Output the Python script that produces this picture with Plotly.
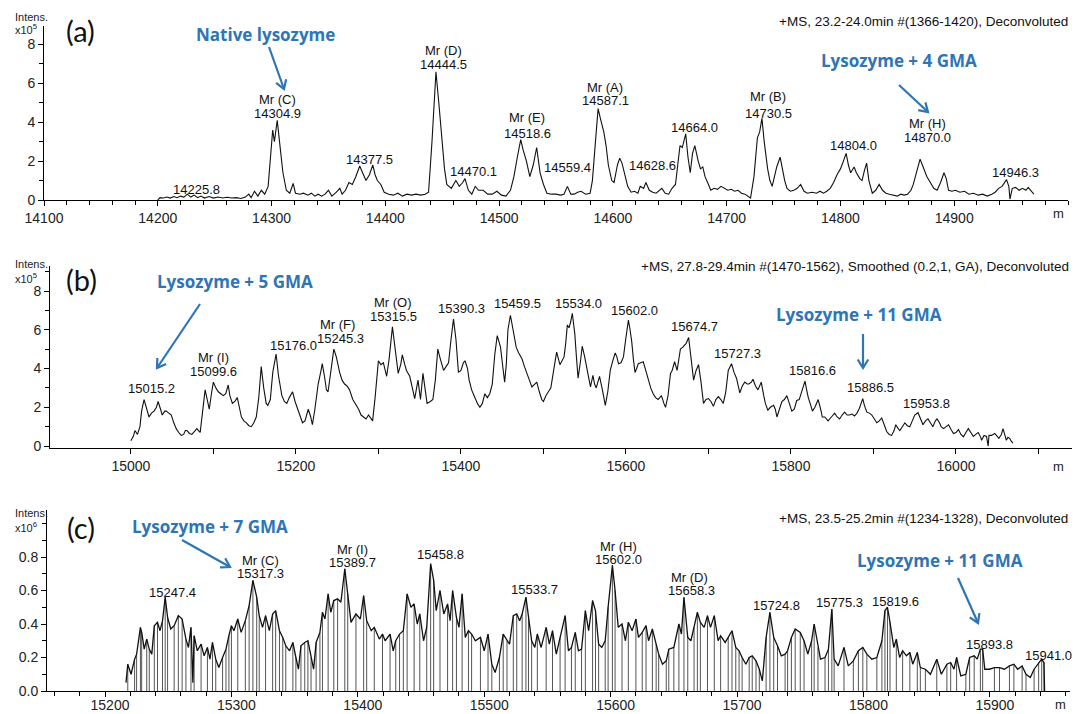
import math
import plotly.graph_objects as go

W, H = 1074, 714
ARIAL = "Liberation Sans, Arial, sans-serif"
CAL = "Lato, Carlito, Calibri, sans-serif"
BLUE_FONT = "Open Sans, Lato, sans-serif"
BLUE = "#2E75B6"
INK = "#111111"

# ---------------- data: panel (a) ----------------
a_mz = [
    14200, 14202, 14205, 14208, 14211, 14214, 14217, 14220, 14223, 14226,
    14229, 14232, 14235, 14238, 14241, 14245, 14249, 14253, 14257, 14261,
    14265, 14269, 14273, 14277, 14280, 14282, 14285, 14288, 14291, 14294,
    14297, 14299, 14301, 14302.5, 14305, 14307, 14310, 14313, 14316, 14319,
    14321, 14325, 14328, 14332, 14335, 14338, 14341, 14344, 14347, 14350,
    14353, 14357, 14360, 14362, 14365, 14368, 14371, 14374, 14377.5, 14380,
    14383, 14386, 14389, 14391, 14393, 14396, 14399, 14403, 14407, 14411,
    14415, 14419, 14423, 14427, 14431, 14435, 14438, 14441, 14444.5, 14447,
    14450, 14452, 14454, 14458, 14462, 14465, 14468, 14470, 14473, 14476,
    14479, 14482, 14486, 14490, 14494, 14498, 14502, 14506, 14510, 14513,
    14516, 14519, 14521, 14524, 14527, 14530, 14533, 14536, 14539, 14542,
    14546, 14550, 14554, 14557, 14560, 14563, 14566, 14569, 14572, 14576,
    14580, 14582, 14584, 14587, 14589, 14592, 14594, 14596, 14599, 14601,
    14604, 14606, 14608, 14611, 14613, 14616, 14619, 14622, 14624, 14627,
    14629, 14632, 14635, 14638, 14641, 14643, 14646, 14649, 14652, 14655,
    14657, 14659, 14661, 14664, 14666, 14668, 14670, 14672, 14675, 14677,
    14679, 14681, 14684, 14686, 14689, 14692, 14695, 14698, 14701, 14704,
    14707, 14710, 14713, 14716, 14719, 14721, 14724, 14727, 14729, 14731,
    14733, 14736, 14738, 14740, 14742, 14744, 14747, 14749, 14751, 14753,
    14756, 14759, 14762, 14765, 14768, 14771, 14775, 14779, 14782, 14785,
    14788, 14791, 14794, 14797, 14800, 14802, 14805, 14807, 14809, 14812,
    14814, 14817, 14819, 14821, 14823, 14825, 14828, 14831, 14834, 14837,
    14840, 14843, 14846, 14850, 14853, 14856, 14859, 14862, 14864, 14867,
    14870, 14872, 14874, 14876, 14879, 14882, 14885, 14888, 14891, 14893,
    14895, 14898, 14901, 14905, 14909, 14913, 14917, 14921, 14925, 14929,
    14933, 14936, 14939, 14942, 14946, 14948, 14949, 14951, 14954, 14957,
    14960, 14963, 14965, 14968, 14970,
]
a_int = [
    0.0, 0.12, 0.1, 0.15, 0.1, 0.18, 0.12, 0.2, 0.15, 0.3,
    0.15, 0.25, 0.12, 0.2, 0.1, 0.18, 0.1, 0.15, 0.1, 0.14,
    0.1, 0.12, 0.08, 0.15, 0.3, 0.12, 0.45, 0.2, 0.5, 0.3,
    0.7, 2.0, 3.6, 3.0, 4.1, 3.0, 1.4, 0.5, 0.35, 0.85,
    0.35, 0.3, 0.35, 0.25, 0.35, 0.2, 0.3, 0.2, 0.3, 0.5,
    0.2, 0.4, 0.6, 0.3, 0.5, 0.9, 0.8, 1.2, 1.75, 1.4,
    1.0, 1.3, 1.8, 1.3, 1.0, 0.8, 0.4, 0.3, 0.25, 0.35,
    0.2, 0.3, 0.25, 0.3, 0.25, 0.3, 0.4, 3.0, 6.6, 5.0,
    3.0, 1.6, 0.8, 0.6, 1.0, 0.7, 0.9, 1.1, 0.5, 0.3,
    0.7, 0.5, 0.5, 0.3, 0.3, 0.45, 0.25, 0.2, 0.5, 1.2,
    2.2, 3.1, 2.6, 2.0, 1.2, 1.8, 2.7, 1.4, 0.8, 0.35,
    0.3, 0.3, 0.25, 0.3, 0.7, 0.3, 0.3, 0.4, 0.45, 0.3,
    0.35, 1.0, 2.5, 4.7, 4.2, 3.5, 2.8, 1.8, 1.0, 0.9,
    1.8, 2.15, 1.9, 1.2, 0.7, 0.4, 0.45, 0.35, 0.7, 0.6,
    0.9, 0.5, 0.4, 0.35, 0.5, 0.6, 0.35, 0.3, 0.6, 0.8,
    1.8, 2.8, 2.7, 3.4, 2.2, 1.4, 2.4, 2.8, 2.0, 1.6,
    1.7, 1.2, 0.8, 0.5, 0.6, 0.55, 0.7, 0.6, 0.5, 0.55,
    0.45, 0.5, 0.35, 0.3, 0.15, 0.1, 1.2, 3.2, 3.5, 4.2,
    3.0, 1.6, 1.0, 0.7, 1.2, 1.7, 2.2, 1.5, 1.0, 0.6,
    0.45, 0.5, 0.6, 0.8, 0.45, 0.35, 0.4, 0.35, 0.45, 0.35,
    0.45, 0.6, 0.9, 1.3, 1.6, 1.9, 2.4, 1.8, 1.4, 1.7,
    1.4, 1.1, 1.0, 1.5, 1.9, 1.0, 0.35, 0.5, 0.8, 0.5,
    0.35, 0.3, 0.25, 0.2, 0.3, 0.25, 0.3, 0.5, 0.8, 1.4,
    2.1, 1.8, 1.5, 1.2, 0.9, 0.6, 0.5, 0.9, 1.4, 1.1,
    0.5, 0.45, 0.5, 0.4, 0.45, 0.3, 0.35, 0.25, 0.3, 0.2,
    0.3, 0.4, 0.6, 0.7, 1.05, 0.7, 0.05, 0.6, 0.65, 0.5,
    0.6, 0.5, 0.65, 0.45, 0.3,
]

# ---------------- data: panel (b) ----------------
b_mz = [
    15000, 15003, 15005, 15008, 15011, 15013, 15016, 15019, 15022, 15025,
    15028, 15031, 15033, 15036, 15038, 15041, 15043, 15046, 15049, 15052,
    15055, 15058, 15061, 15064, 15066, 15068, 15071, 15074, 15077, 15080,
    15082, 15084, 15087, 15090, 15093, 15095, 15098, 15100, 15103, 15106,
    15109, 15112, 15115, 15118, 15120, 15123, 15126, 15129, 15132, 15134,
    15137, 15140, 15143, 15146, 15149, 15152, 15155, 15158, 15161, 15164,
    15166, 15169, 15172, 15176, 15179, 15183, 15186, 15189, 15192, 15196,
    15199, 15203, 15206, 15208, 15211, 15215, 15218, 15220, 15223, 15227,
    15230, 15232, 15235, 15237, 15239, 15242, 15246, 15249, 15253, 15256,
    15259, 15262, 15265, 15269, 15272, 15276, 15279, 15282, 15285, 15288,
    15291, 15293, 15296, 15300, 15303, 15306, 15310, 15313, 15317, 15320,
    15324, 15327, 15329, 15332, 15334, 15338, 15341, 15344, 15348, 15351,
    15354, 15357, 15359, 15363, 15366, 15369, 15372, 15375, 15379, 15382,
    15385, 15388, 15391, 15394, 15397, 15400, 15403, 15405, 15408, 15410,
    15413, 15416, 15420, 15423, 15426, 15429, 15432, 15435, 15438, 15441,
    15444, 15446, 15448, 15451, 15453, 15455, 15457, 15460, 15463, 15465,
    15467, 15470, 15474, 15477, 15480, 15483, 15486, 15489, 15492, 15495,
    15498, 15500, 15503, 15506, 15509, 15512, 15516, 15520, 15523, 15525,
    15527, 15529, 15531, 15533, 15535, 15538, 15540, 15542, 15545, 15547,
    15550, 15552, 15555, 15557, 15560, 15562, 15564, 15566, 15568, 15571,
    15573, 15575, 15578, 15581, 15584, 15587, 15589, 15591, 15594, 15597,
    15600, 15603, 15605, 15607, 15609, 15611, 15613, 15615, 15618, 15621,
    15624, 15627, 15630, 15633, 15636, 15639, 15641, 15643, 15646, 15648,
    15651, 15654, 15656, 15659, 15662, 15664, 15666, 15669, 15671, 15673,
    15676, 15679, 15682, 15685, 15688, 15691, 15694, 15697, 15700, 15703,
    15706, 15709, 15712, 15715, 15718, 15721, 15724, 15728, 15731, 15734,
    15736, 15738, 15741, 15744, 15747, 15749, 15752, 15754, 15757, 15760,
    15762, 15764, 15767, 15769, 15772, 15775, 15779, 15781, 15783, 15786,
    15789, 15792, 15795, 15798, 15801, 15804, 15807, 15810, 15813, 15817,
    15819, 15821, 15824, 15826, 15829, 15833, 15836, 15838, 15841, 15845,
    15849, 15853, 15856, 15859, 15862, 15865, 15868, 15871, 15874, 15877,
    15880, 15883, 15887, 15889, 15892, 15895, 15898, 15901, 15904, 15907,
    15910, 15913, 15916, 15919, 15922, 15925, 15927, 15930, 15932, 15935,
    15938, 15941, 15944, 15947, 15950, 15954, 15957, 15960, 15963, 15966,
    15969, 15972, 15975, 15977, 15980, 15982, 15985, 15988, 15991, 15994,
    15997, 16000, 16003, 16006, 16009, 16012, 16015, 16018, 16021, 16024,
    16027, 16030, 16031, 16034, 16037, 16039, 16040, 16043, 16047, 16050,
    16052, 16055, 16057, 16059, 16061, 16063, 16065, 16067, 16069,
]
b_int = [
    0.27, 0.5, 0.8, 0.6, 1.0, 1.8, 2.4, 2.0, 1.5, 1.7,
    1.8, 2.0, 2.3, 1.9, 1.6, 1.8, 1.8, 1.7, 1.6, 1.2,
    0.9, 0.7, 0.55, 0.6, 0.8, 0.8, 0.65, 0.6, 0.75, 0.9,
    0.8, 0.7, 1.8, 2.9, 2.3, 1.9, 2.8, 3.3, 3.0, 2.8,
    2.7, 2.6, 2.7, 3.15, 2.6, 2.2, 2.3, 2.5, 1.9, 1.5,
    1.3, 1.2, 1.05, 1.0, 1.2, 1.5, 2.5, 4.1, 3.0, 2.2,
    2.1, 2.4, 3.8, 4.75, 3.6, 2.6, 2.3, 2.2, 2.5, 2.8,
    2.3, 1.8, 1.4, 1.2, 1.3, 1.9, 1.5, 1.1, 1.9, 3.2,
    3.8, 4.25, 3.5, 2.9, 2.8, 3.8, 5.0, 4.6, 3.8, 3.4,
    3.2, 3.1, 2.9, 2.4, 2.2, 1.9, 1.6, 1.5, 1.4, 1.6,
    1.45, 1.3, 2.5, 4.4, 4.2, 4.3, 3.6, 4.5, 6.15, 5.0,
    3.75, 4.2, 4.7, 4.2, 3.9, 3.6, 3.0, 2.45, 3.4, 2.4,
    3.75, 2.8, 2.2, 2.3, 2.4, 3.4, 5.0, 4.5, 3.9, 4.1,
    4.3, 5.5, 6.55, 5.5, 3.8, 3.9, 4.3, 4.4, 4.0, 3.4,
    2.9, 2.6, 2.2, 2.0, 2.2, 2.7, 2.5, 2.7, 3.2, 4.7,
    5.7, 5.4, 5.1, 4.0, 3.3, 4.2, 6.0, 6.75, 6.0, 5.5,
    5.1, 4.8, 4.5, 4.1, 3.8, 3.4, 3.05, 3.2, 3.3, 2.8,
    2.4, 2.3, 2.6, 2.8, 3.0, 3.8, 4.85, 4.2, 4.4, 4.6,
    5.3, 6.25, 6.1, 6.4, 6.85, 5.8, 4.6, 3.5, 4.4, 5.15,
    4.6, 4.1, 3.4, 3.05, 3.65, 3.2, 3.0, 3.3, 3.6, 3.0,
    2.6, 2.1, 2.8, 3.9, 4.4, 4.8, 4.6, 4.25, 4.3, 4.6,
    5.6, 6.5, 6.0, 5.4, 4.5, 3.8, 4.0, 4.25, 4.3, 4.35,
    3.9, 3.4, 3.0, 2.7, 2.5, 2.4, 2.5, 2.6, 2.2, 2.0,
    2.6, 3.75, 3.9, 4.35, 3.9, 4.4, 5.0, 5.1, 5.2, 5.3,
    5.6, 4.4, 3.4, 3.9, 4.2, 3.3, 2.2, 2.4, 2.45, 2.3,
    2.05, 2.4, 2.55, 2.4, 2.2, 2.8, 3.9, 4.25, 3.8, 3.5,
    3.1, 2.75, 3.1, 3.3, 3.2, 3.2, 3.3, 3.45, 3.1, 2.9,
    3.1, 3.3, 2.6, 2.2, 1.85, 2.0, 2.1, 1.9, 1.5, 1.9,
    2.3, 2.4, 2.6, 2.2, 1.8, 1.9, 2.35, 2.4, 2.8, 3.35,
    2.9, 2.5, 2.1, 1.8, 2.0, 2.4, 1.9, 1.5, 1.5, 1.3,
    1.5, 1.7, 1.5, 1.4, 1.6, 1.75, 1.6, 1.6, 1.65, 1.55,
    1.7, 1.95, 2.45, 2.1, 1.75, 1.7, 1.6, 1.4, 1.2, 1.3,
    1.45, 1.1, 0.75, 0.6, 0.55, 0.8, 1.1, 0.9, 0.8, 1.0,
    1.2, 1.05, 1.0, 1.3, 1.6, 1.72, 1.4, 1.1, 1.3, 1.4,
    1.2, 1.0, 1.3, 1.4, 1.2, 1.0, 0.9, 1.0, 1.1, 0.85,
    0.65, 0.7, 0.85, 0.6, 0.48, 0.7, 0.9, 0.7, 0.5, 0.6,
    0.7, 0.45, 0.3, 0.55, 0.5, 0.0, 0.55, 0.55, 0.65, 0.5,
    0.4, 0.6, 0.9, 0.6, 0.3, 0.45, 0.4, 0.25, 0.15,
]

# ---------------- data: panel (c) ----------------
c_mz = [
    15216.6, 15218, 15220.6, 15223.4, 15225, 15228, 15229, 15231, 15233, 15235,
    15237, 15239, 15241.5, 15243.5, 15245.5, 15247.6, 15249.5, 15252, 15254.7, 15258,
    15261, 15264, 15266, 15268, 15269.5, 15270.5, 15273, 15276, 15278.4, 15281,
    15283, 15285, 15287.6, 15290, 15293, 15295.7, 15298, 15300, 15302, 15305,
    15307.7, 15311, 15314, 15317, 15320, 15322, 15324.6, 15327, 15330, 15332.6,
    15335, 15338, 15340.6, 15343, 15346, 15348.6, 15351, 15353, 15355, 15358,
    15360.5, 15363, 15365, 15367, 15370, 15372, 15374, 15376.5, 15378.6, 15381,
    15384, 15386.6, 15389.7, 15392, 15394.6, 15398.5, 15402, 15404.6, 15407, 15410.6,
    15413, 15417, 15419.5, 15421.6, 15425.5, 15428, 15430, 15433, 15436, 15439,
    15442, 15444.5, 15447, 15449, 15452, 15454.5, 15457.6, 15460, 15462, 15465,
    15468, 15471, 15473, 15475, 15478, 15480, 15482.5, 15485, 15487.5, 15490,
    15493, 15497, 15500, 15503, 15506, 15508.6, 15512, 15515, 15518, 15520,
    15523, 15525.7, 15528, 15530, 15533, 15535, 15537.5, 15540, 15542, 15545,
    15549, 15551.5, 15554, 15557, 15560, 15564, 15566.6, 15569, 15572, 15574.5,
    15577, 15580, 15582.6, 15585.7, 15588, 15590.5, 15593, 15595.7, 15598, 15601.4,
    15603.5, 15606, 15609, 15611.7, 15614, 15617, 15620, 15622, 15625, 15628,
    15630, 15633, 15636, 15638, 15641, 15644, 15646, 15650, 15654, 15656,
    15658, 15661, 15663.5, 15666, 15668.6, 15671, 15674, 15676.6, 15679, 15682,
    15685, 15687, 15690.6, 15693, 15696, 15699, 15701.6, 15704, 15707, 15709.6,
    15712, 15715, 15717.6, 15720, 15723, 15726, 15729, 15732, 15735, 15738,
    15740, 15743, 15746, 15750, 15753, 15756, 15759, 15761, 15764, 15766,
    15769.6, 15772.3, 15775, 15776.8, 15780, 15784.6, 15788, 15792, 15796, 15799.5,
    15802.7, 15806.6, 15810.6, 15814.6, 15817, 15819, 15821, 15824, 15826, 15828.6,
    15831, 15834, 15836.7, 15839, 15842.6, 15845, 15849, 15853, 15858, 15861.6,
    15866, 15869, 15871.6, 15873.7, 15877, 15881, 15884, 15887.6, 15890, 15892.5,
    15894.3, 15896, 15899.7, 15903.6, 15907.6, 15911.5, 15915.5, 15919, 15922, 15925.5,
    15928.6, 15932, 15935, 15938.6, 15941, 15942.8, 15943.3,
]
c_int = [
    0.05, 0.16, 0.1, 0.19, 0.22, 0.38, 0.35, 0.25, 0.31, 0.25,
    0.22, 0.39, 0.41, 0.36, 0.42, 0.56, 0.44, 0.37, 0.39, 0.45,
    0.43, 0.31, 0.26, 0.38, 0.05, 0.33, 0.24, 0.28, 0.21, 0.26,
    0.19, 0.29, 0.19, 0.14, 0.2, 0.25, 0.33, 0.39, 0.36, 0.43,
    0.35, 0.42, 0.51, 0.66, 0.56, 0.45, 0.38, 0.45, 0.36, 0.46,
    0.48, 0.36, 0.32, 0.27, 0.24, 0.29, 0.2, 0.13, 0.27, 0.29,
    0.3, 0.2, 0.13, 0.29, 0.35, 0.47, 0.43, 0.58, 0.47, 0.54,
    0.55, 0.53, 0.73, 0.58, 0.41, 0.46, 0.43, 0.57, 0.42, 0.36,
    0.38, 0.31, 0.34, 0.3, 0.34, 0.24, 0.3, 0.34, 0.36, 0.58,
    0.5, 0.52, 0.4, 0.46, 0.3, 0.38, 0.76, 0.66, 0.48, 0.6,
    0.46, 0.52, 0.42, 0.6, 0.44, 0.38, 0.58, 0.32, 0.36, 0.34,
    0.3, 0.32, 0.24, 0.34, 0.16, 0.11, 0.2, 0.34, 0.3, 0.28,
    0.45, 0.46, 0.42, 0.46, 0.56, 0.44, 0.3, 0.26, 0.34, 0.26,
    0.38, 0.28, 0.36, 0.22, 0.32, 0.45, 0.24, 0.26, 0.35, 0.24,
    0.25, 0.48, 0.36, 0.54, 0.48, 0.28, 0.26, 0.3, 0.5, 0.75,
    0.6, 0.38, 0.4, 0.3, 0.41, 0.36, 0.43, 0.32, 0.35, 0.39,
    0.3, 0.37, 0.28, 0.22, 0.16, 0.18, 0.25, 0.26, 0.4, 0.34,
    0.56, 0.32, 0.3, 0.38, 0.47, 0.41, 0.38, 0.45, 0.38, 0.45,
    0.3, 0.33, 0.29, 0.32, 0.36, 0.26, 0.24, 0.2, 0.16, 0.2,
    0.21, 0.18, 0.13, 0.06, 0.32, 0.47, 0.32, 0.27, 0.21, 0.22,
    0.24, 0.32, 0.37, 0.35, 0.3, 0.22, 0.3, 0.4, 0.26, 0.19,
    0.2, 0.25, 0.49, 0.19, 0.15, 0.26, 0.15, 0.18, 0.24, 0.26,
    0.22, 0.19, 0.2, 0.3, 0.48, 0.5, 0.41, 0.26, 0.31, 0.2,
    0.24, 0.21, 0.23, 0.16, 0.23, 0.14, 0.13, 0.1, 0.19, 0.1,
    0.16, 0.17, 0.13, 0.2, 0.09, 0.1, 0.2, 0.21, 0.19, 0.25,
    0.25, 0.13, 0.13, 0.14, 0.14, 0.13, 0.15, 0.16, 0.13, 0.15,
    0.1, 0.08, 0.13, 0.17, 0.19, 0.17, 0.0,
]

# tick values
a_xticks = [14100, 14200, 14300, 14400, 14500, 14600, 14700, 14800, 14900]
b_xticks = [15000, 15200, 15400, 15600, 15800, 16000]
c_xticks = [15200, 15300, 15400, 15500, 15600, 15700, 15800, 15900]
ab_yticks = [0, 2, 4, 6, 8]
c_yticks = [0.0, 0.2, 0.4, 0.6, 0.8]

# texts
headers = [
    "+MS, 23.2-24.0min #(1366-1420), Deconvoluted",
    "+MS, 27.8-29.4min #(1470-1562), Smoothed (0.2,1, GA), Deconvoluted",
    "+MS, 23.5-25.2min #(1234-1328), Deconvoluted",
]
panel_letters = ["(a)", "(b)", "(c)"]
blue_texts = ["Native lysozyme", "Lysozyme + 4 GMA", "Lysozyme + 5 GMA",
              "Lysozyme + 11 GMA", "Lysozyme + 7 GMA", "Lysozyme + 11 GMA"]
exponents = ["5", "5", "6"]

# peak labels: (text, page x, page y)
a_peak_labels = [
    ("Mr (C)", 277, 100), ("14304.9", 277, 113), ("14225.8", 196, 190),
    ("14377.5", 369, 159), ("Mr (D)", 443, 51), ("14444.5", 443, 64),
    ("14470.1", 473, 171), ("Mr (E)", 527, 118), ("14518.6", 527, 133),
    ("14559.4", 567, 167), ("Mr (A)", 605, 87), ("14587.1", 605, 101),
    ("14628.6", 652, 165), ("14664.0", 694, 127), ("Mr (B)", 768, 97),
    ("14730.5", 768, 113), ("14804.0", 853, 146), ("Mr (H)", 927, 123),
    ("14870.0", 927, 137), ("14946.3", 1015, 172),
]
b_peak_labels = [
    ("15015.2", 151, 389), ("Mr (I)", 213, 357), ("15099.6", 213, 371),
    ("15176.0", 293, 345), ("Mr (F)", 337, 325), ("15245.3", 340, 338),
    ("Mr (O)", 393, 302), ("15315.5", 393, 316), ("15390.3", 461, 308),
    ("15459.5", 517, 303), ("15534.0", 578, 303), ("15602.0", 634, 310),
    ("15674.7", 694, 327), ("15727.3", 737, 353), ("15816.6", 812, 370),
    ("15886.5", 870, 387), ("15953.8", 926, 403),
]
c_peak_labels = [
    ("15247.4", 172, 592), ("Mr (C)", 260, 560), ("15317.3", 260, 573),
    ("Mr (I)", 352, 549), ("15389.7", 352, 562), ("15458.8", 440, 554),
    ("15533.7", 534, 589), ("Mr (H)", 618, 546), ("15602.0", 618, 559),
    ("Mr (D)", 689, 577), ("15658.3", 691, 590), ("15724.8", 776, 605),
    ("15775.3", 839, 602), ("15819.6", 895, 601), ("15893.8", 989, 644),
    ("15941.0", 1048, 655),
]

# centroid sticks of panel (c): every profile point that is not a local minimum
stick_x, stick_y = [], []
for i in range(1, len(c_mz) - 1):
    if c_int[i] > min(c_int[i - 1], c_int[i + 1]):
        stick_x += [c_mz[i], c_mz[i], None]
        stick_y += [0, c_int[i], None]

fig = go.Figure()
fig.add_trace(go.Scatter(x=a_mz, y=a_int, xaxis="x", yaxis="y", mode="lines",
                         line=dict(color=INK, width=1.1), hoverinfo="skip"))
fig.add_trace(go.Scatter(x=b_mz, y=b_int, xaxis="x2", yaxis="y2", mode="lines",
                         line=dict(color=INK, width=1.1), hoverinfo="skip"))
fig.add_trace(go.Scatter(x=stick_x, y=stick_y, xaxis="x3", yaxis="y3", mode="lines",
                         line=dict(color="#555555", width=1), hoverinfo="skip"))
fig.add_trace(go.Scatter(x=c_mz, y=c_int, xaxis="x3", yaxis="y3", mode="lines",
                         line=dict(color="#111111", width=1.3), hoverinfo="skip"))

TF = dict(family=ARIAL, size=14, color="#222")


def xax(domain, rng, ticks, minor_dtick, minor_len, anchor, shift=0, standoff=0):
    return dict(domain=domain, range=rng, anchor=anchor, showline=True, linecolor="#000",
                linewidth=1, ticks="outside", ticklen=5, tickwidth=1, tickcolor="#000",
                tickmode="array", tickvals=ticks, ticktext=[str(t) for t in ticks],
                minor=dict(ticks="outside", ticklen=minor_len, tickwidth=1, tickcolor="#000",
                           dtick=minor_dtick, tick0=ticks[0], showgrid=False),
                showgrid=False, zeroline=False, tickfont=TF, fixedrange=True,
                automargin=False, ticklabelshift=shift, ticklabelstandoff=standoff)


def yax(domain, rng, ticks, labels, minor_dtick, anchor):
    return dict(domain=domain, range=rng, anchor=anchor, showline=True, linecolor="#000",
                linewidth=1, ticks="outside", ticklen=5, tickwidth=1, tickcolor="#000",
                tickmode="array", tickvals=ticks, ticktext=labels,
                minor=dict(ticks="outside", ticklen=4, tickwidth=1, tickcolor="#000",
                           dtick=minor_dtick, tick0=0, showgrid=False),
                showgrid=False, zeroline=False, tickfont=TF, fixedrange=True,
                automargin=False)


def pxl(x):
    return x / W


def pyl(y):
    return 1 - y / H


layout = dict(
    width=W, height=H, margin=dict(l=0, r=0, t=0, b=0, autoexpand=False),
    paper_bgcolor="white", plot_bgcolor="white", showlegend=False, hovermode=False,
    xaxis=xax([pxl(44), pxl(1068)], [14100, 15000], a_xticks, 20, 4, "y"),
    yaxis=yax([pyl(200), pyl(26)], [0, 8.95], ab_yticks, [str(t) for t in ab_yticks], 1, "x"),
    xaxis2=xax([pxl(50), pxl(1072)], [14902, 16140.6], b_xticks, 100, 5, "y2"),
    yaxis2=yax([pyl(448), pyl(266)], [-0.1, 9.29], ab_yticks, [str(t) for t in ab_yticks], 1, "x2"),
    xaxis3=xax([pxl(47), pxl(1070)], [15154.1, 15963.4], c_xticks, 20, 4, "y3",
               shift=5, standoff=-4),
    yaxis3=yax([pyl(691), pyl(510)], [0, 1.0806], c_yticks, ["%.1f" % t for t in c_yticks], 0.1, "x3"),
)
fig.update_layout(**layout)

ann = []
shapes = []


def text(t, x, y, size=13, color=INK, family=ARIAL, xanchor="center", weight="normal"):
    ann.append(dict(text=t, x=pxl(x), y=pyl(y), xref="paper", yref="paper", showarrow=False,
                    xanchor=xanchor, yanchor="middle",
                    font=dict(family=family, size=size, color=color, weight=weight)))


def arrow(x0, y0, x1, y1, head=10, ang=32):
    """Blue arrow from tail (x0, y0) to head (x1, y1) in page pixels, open V head."""
    dx, dy = x1 - x0, y1 - y0
    L = math.hypot(dx, dy)
    ux, uy = dx / L, dy / L
    pts = []
    for s in (1, -1):
        a = math.radians(ang) * s
        rx = -ux * math.cos(a) + uy * math.sin(a)
        ry = -ux * math.sin(a) - uy * math.cos(a)
        pts.append((x1 + head * rx, y1 + head * ry))
    line = dict(color=BLUE, width=2.2)
    shapes.append(dict(type="line", xref="paper", yref="paper",
                       x0=pxl(x0), y0=pyl(y0), x1=pxl(x1), y1=pyl(y1), line=line))
    path = "M %f,%f L %f,%f L %f,%f" % (pxl(pts[0][0]), pyl(pts[0][1]), pxl(x1), pyl(y1),
                                        pxl(pts[1][0]), pyl(pts[1][1]))
    shapes.append(dict(type="path", xref="paper", yref="paper", path=path, line=line))


for labels in (a_peak_labels, b_peak_labels, c_peak_labels):
    for t, x, y in labels:
        text(t, x, y, size=13)

# headers
text(headers[0], 1070, 21, size=13.5, xanchor="right")
text(headers[1], 1071, 266, size=13.5, xanchor="right")
text(headers[2], 1070, 518, size=13.5, xanchor="right")

# panel letters
text(panel_letters[0], 80, 31, size=29, family=CAL)
text(panel_letters[1], 81, 280, size=29, family=CAL)
text(panel_letters[2], 81, 527, size=29, family=CAL)

# intensity unit labels
for (iy, ey, exp) in [(17, 29, exponents[0]), (264, 278, exponents[1]), (513, 527, exponents[2])]:
    text("Intens.", 31, iy, size=11, color="#222")
    text("x10<sup>%s</sup>" % exp, 26, ey, size=11, color="#222")

# "m" labels at the end of x axes
text("m", 1058, 213, size=13, color="#222")
text("m", 1058, 466, size=13, color="#222")
text("m", 1060, 704, size=13, color="#222")

# blue annotations and arrows
blue_pos = [(265, 34), (899, 60), (235, 282), (859, 314), (210, 526), (940, 560)]
for t, (x, y) in zip(blue_texts, blue_pos):
    text(t, x, y, size=17, color=BLUE, family=BLUE_FONT, weight="bold")
arrow(269, 47, 284, 89)
arrow(899, 85, 928, 112)
arrow(200, 304, 157, 368)
arrow(863, 334, 863, 368)
arrow(182, 540, 230, 567)
arrow(958, 578, 978, 623)

fig.update_layout(annotations=ann, shapes=shapes)
fig.write_html("out.html")
